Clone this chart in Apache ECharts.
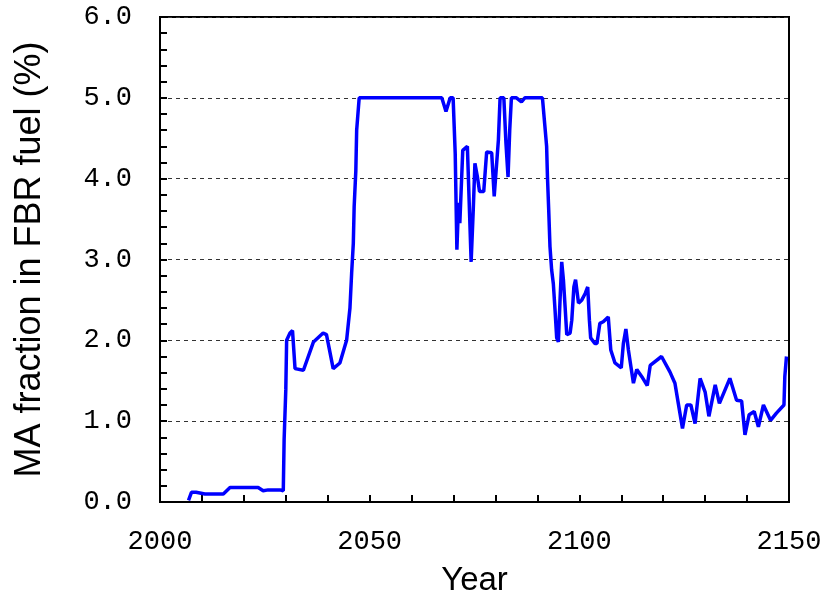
<!DOCTYPE html>
<html>
<head>
<meta charset="utf-8">
<script src="https://cdn.jsdelivr.net/npm/echarts@6/dist/echarts.min.js"></script>
<style>
html,body{margin:0;padding:0;background:#fff;}
#chart{width:827px;height:602px;}
</style>
</head>
<body>
<div id="chart"></div>
<script>
const years = [2006.8,2007.5,2008.6,2010.7,2015.1,2016.7,2023.4,2024.6,2025.8,2028.6,2029.4,2029.6,2030.0,2030.2,2031.0,2031.6,2032.2,2034.2,2036.6,2038.9,2039.7,2041.3,2042.9,2044.5,2045.3,2045.7,2046.1,2046.3,2046.7,2046.9,2047.5,2067.2,2068.2,2069.2,2069.9,2070.4,2070.8,2071.2,2071.5,2072.2,2073.3,2074.2,2074.7,2075.1,2075.7,2076.2,2077.2,2077.9,2079.1,2079.7,2080.7,2081.1,2082.0,2082.5,2083.0,2083.4,2083.8,2085.0,2086.2,2087.0,2091.2,2091.8,2092.2,2092.4,2092.7,2093.0,2093.4,2093.8,2094.2,2094.6,2095.0,2095.4,2095.8,2096.2,2096.6,2097.0,2097.8,2098.2,2098.7,2099.1,2099.8,2100.6,2101.4,2102.0,2102.4,2102.7,2103.7,2104.2,2104.9,2105.7,2106.9,2107.5,2108.5,2110.0,2110.5,2111.1,2111.7,2112.9,2113.7,2114.9,2116.2,2116.9,2119.6,2121.6,2122.8,2123.6,2124.6,2125.6,2126.6,2127.6,2128.8,2130.0,2130.9,2132.4,2133.4,2135.9,2137.5,2138.7,2139.5,2140.5,2141.7,2142.7,2143.9,2145.6,2147.0,2148.8,2149.0,2149.4];
const maFraction = [0.02,0.12,0.12,0.10,0.10,0.18,0.18,0.14,0.15,0.15,0.14,0.77,1.39,2.00,2.09,2.12,1.65,1.63,1.98,2.09,2.07,1.65,1.72,2.00,2.4,2.83,3.2,3.65,4.1,4.6,5.0,5.0,4.83,5.0,5.0,4.31,3.12,3.7,3.45,4.35,4.4,2.97,3.61,4.19,4.02,3.84,3.84,4.33,4.32,3.78,4.48,5.0,5.0,4.44,4.02,4.6,5.0,5.0,4.95,5.0,5.0,4.64,4.4,4.02,3.61,3.16,2.87,2.7,2.38,2.03,1.98,2.5,2.97,2.75,2.42,2.07,2.09,2.25,2.66,2.75,2.46,2.5,2.58,2.66,2.25,2.03,1.96,1.96,2.21,2.23,2.29,1.88,1.72,1.66,1.96,2.14,1.88,1.47,1.64,1.55,1.44,1.69,1.80,1.61,1.47,1.22,0.91,1.2,1.2,0.97,1.53,1.36,1.06,1.45,1.22,1.53,1.26,1.25,0.83,1.08,1.12,0.93,1.2,1.01,1.1,1.2,1.55,1.8];
const xTitle = 'Year';
const yTitle = 'MA fraction in FBR fuel (%)';

const seriesData = years.map((y, i) => [y, maFraction[i]]);

const chart = echarts.init(document.getElementById('chart'));
const tickFont = {fontFamily: 'Liberation Mono', fontSize: 27, color: '#000'};
chart.setOption({
  animation: false,
  backgroundColor: '#fff',
  grid: {left: 160, right: 38, top: 17, bottom: 100, outerBoundsMode: 'none', containLabel: false,
         show: true, borderColor: '#000', borderWidth: 2, backgroundColor: 'transparent'},
  xAxis: {
    type: 'value', min: 2000, max: 2150, interval: 50,
    name: xTitle, nameLocation: 'middle', nameGap: 62,
    nameTextStyle: {fontFamily: 'Liberation Sans', fontSize: 33, color: '#000'},
    axisLine: {show: true, lineStyle: {color: '#000', width: 2}},
    axisTick: {show: true, inside: true, length: 7, lineStyle: {color: '#000', width: 2}},
    minorTick: {show: true, splitNumber: 5, length: 7, lineStyle: {color: '#000', width: 2}},
    axisLabel: Object.assign({margin: 26, formatter: v => String(v)}, tickFont),
    splitLine: {show: false}
  },
  yAxis: {
    type: 'value', min: 0, max: 6, interval: 1,
    name: yTitle, nameLocation: 'middle', nameGap: 112,
    nameTextStyle: {fontFamily: 'Liberation Sans', fontSize: 36, color: '#000'},
    axisLine: {show: true, lineStyle: {color: '#000', width: 2}},
    axisTick: {show: true, inside: true, length: 7, lineStyle: {color: '#000', width: 2}},
    minorTick: {show: true, splitNumber: 5, length: 7, lineStyle: {color: '#000', width: 2}},
    axisLabel: Object.assign({margin: 28, formatter: v => v.toFixed(1)}, tickFont),
    splitLine: {show: true, lineStyle: {color: '#333', width: 1, type: [4, 4]}}
  },
  series: [{
    type: 'line', data: seriesData, showSymbol: false,
    lineStyle: {color: '#0000ff', width: 3.5}, itemStyle: {color: '#0000ff'}
  }]
});
</script>
</body>
</html>
